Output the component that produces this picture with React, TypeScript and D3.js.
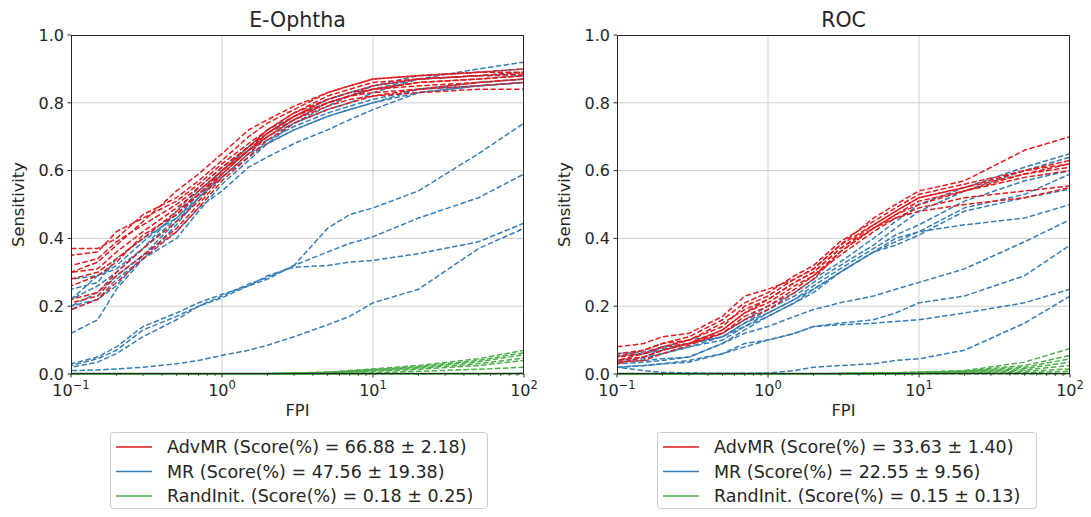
import React, { useRef, useEffect } from 'react';
import * as d3 from 'd3';

// shared FPI sample points for every curve
const fpi = [0.1, 0.15, 0.2, 0.3, 0.5, 0.7, 1, 1.5, 2, 3, 5, 7, 10, 20, 50, 100];

// E-Ophtha
const ophthaAdv = [
  [0.37, 0.37, 0.40, 0.47, 0.52, 0.57, 0.63, 0.70, 0.74, 0.78, 0.83, 0.85, 0.87, 0.88, 0.89, 0.90],
  [0.35, 0.36, 0.42, 0.46, 0.51, 0.56, 0.62, 0.68, 0.72, 0.77, 0.82, 0.84, 0.86, 0.87, 0.88, 0.89],
  [0.32, 0.34, 0.39, 0.44, 0.50, 0.55, 0.61, 0.67, 0.71, 0.76, 0.81, 0.83, 0.85, 0.87, 0.88, 0.885],
  [0.30, 0.31, 0.36, 0.42, 0.49, 0.54, 0.60, 0.67, 0.72, 0.77, 0.81, 0.83, 0.84, 0.85, 0.86, 0.87],
  [0.28, 0.30, 0.34, 0.40, 0.48, 0.53, 0.60, 0.66, 0.70, 0.75, 0.80, 0.82, 0.83, 0.84, 0.85, 0.86],
  [0.22, 0.24, 0.30, 0.37, 0.45, 0.51, 0.59, 0.66, 0.71, 0.76, 0.80, 0.82, 0.84, 0.86, 0.87, 0.88],
  [0.21, 0.23, 0.29, 0.35, 0.43, 0.50, 0.58, 0.65, 0.70, 0.75, 0.79, 0.81, 0.82, 0.83, 0.84, 0.84],
  [0.19, 0.22, 0.27, 0.34, 0.42, 0.49, 0.57, 0.64, 0.69, 0.74, 0.78, 0.80, 0.82, 0.84, 0.86, 0.87],
  [0.30, 0.33, 0.38, 0.45, 0.54, 0.59, 0.65, 0.72, 0.75, 0.79, 0.83, 0.85, 0.87, 0.88, 0.89, 0.89],
  [0.26, 0.29, 0.33, 0.41, 0.47, 0.53, 0.59, 0.66, 0.71, 0.76, 0.80, 0.82, 0.84, 0.86, 0.87, 0.88],
];
const ophthaMr = [
  [0.12, 0.16, 0.25, 0.34, 0.44, 0.52, 0.59, 0.66, 0.70, 0.74, 0.78, 0.80, 0.83, 0.87, 0.90, 0.92],
  [0.20, 0.22, 0.26, 0.35, 0.42, 0.49, 0.54, 0.61, 0.64, 0.68, 0.72, 0.75, 0.78, 0.83, 0.85, 0.86],
  [0.22, 0.26, 0.30, 0.37, 0.46, 0.53, 0.58, 0.65, 0.68, 0.72, 0.76, 0.78, 0.80, 0.84, 0.86, 0.87],
  [0.20, 0.24, 0.29, 0.35, 0.45, 0.52, 0.60, 0.66, 0.69, 0.73, 0.77, 0.79, 0.81, 0.84, 0.85, 0.86],
  [0.22, 0.29, 0.31, 0.37, 0.48, 0.55, 0.61, 0.67, 0.71, 0.75, 0.80, 0.82, 0.84, 0.87, 0.88, 0.88],
  [0.25, 0.27, 0.34, 0.40, 0.46, 0.52, 0.58, 0.64, 0.68, 0.74, 0.79, 0.82, 0.85, 0.88, 0.89, 0.90],
  [0.28, 0.29, 0.32, 0.39, 0.47, 0.54, 0.60, 0.67, 0.72, 0.76, 0.81, 0.83, 0.85, 0.87, 0.88, 0.89],
  [0.19, 0.22, 0.28, 0.34, 0.40, 0.48, 0.56, 0.63, 0.68, 0.72, 0.76, 0.78, 0.80, 0.83, 0.85, 0.86],
  [0.03, 0.05, 0.08, 0.14, 0.18, 0.21, 0.235, 0.26, 0.28, 0.32, 0.43, 0.47, 0.49, 0.54, 0.65, 0.74],
  [0.025, 0.045, 0.07, 0.13, 0.17, 0.20, 0.23, 0.265, 0.285, 0.32, 0.36, 0.385, 0.405, 0.46, 0.52, 0.59],
  [0.02, 0.035, 0.06, 0.11, 0.16, 0.20, 0.225, 0.26, 0.29, 0.315, 0.32, 0.33, 0.335, 0.355, 0.39, 0.445],
  [0.01, 0.012, 0.015, 0.02, 0.03, 0.04, 0.055, 0.07, 0.085, 0.11, 0.145, 0.17, 0.21, 0.25, 0.37, 0.43],
];
const ophthaRand = [
  [0, 0, 0, 0, 0, 0, 0, 0, 0.001, 0.003, 0.006, 0.010, 0.015, 0.025, 0.045, 0.070],
  [0, 0, 0, 0, 0, 0, 0, 0, 0.001, 0.002, 0.005, 0.009, 0.013, 0.022, 0.040, 0.063],
  [0, 0, 0, 0, 0, 0, 0, 0, 0.001, 0.002, 0.004, 0.008, 0.012, 0.020, 0.036, 0.057],
  [0, 0, 0, 0, 0, 0, 0, 0, 0, 0.001, 0.003, 0.006, 0.010, 0.017, 0.030, 0.047],
  [0, 0, 0, 0, 0, 0, 0, 0, 0, 0.001, 0.002, 0.005, 0.008, 0.014, 0.025, 0.040],
  [0, 0, 0, 0, 0, 0, 0, 0, 0, 0, 0.001, 0.002, 0.004, 0.008, 0.014, 0.020],
  [0, 0, 0, 0, 0, 0, 0, 0, 0, 0, 0, 0, 0, 0, 0, 0.002],
  [0, 0, 0, 0, 0, 0, 0, 0, 0, 0, 0, 0, 0, 0, 0, 0],
];

// ROC
const rocAdv = [
  [0.08, 0.09, 0.11, 0.12, 0.17, 0.23, 0.25, 0.28, 0.31, 0.38, 0.46, 0.50, 0.54, 0.57, 0.66, 0.70],
  [0.06, 0.07, 0.09, 0.10, 0.15, 0.19, 0.22, 0.27, 0.30, 0.37, 0.44, 0.48, 0.52, 0.55, 0.60, 0.62],
  [0.05, 0.06, 0.08, 0.09, 0.13, 0.18, 0.21, 0.26, 0.29, 0.36, 0.43, 0.47, 0.51, 0.54, 0.59, 0.62],
  [0.04, 0.05, 0.07, 0.09, 0.12, 0.17, 0.20, 0.25, 0.29, 0.35, 0.42, 0.46, 0.49, 0.52, 0.54, 0.555],
  [0.035, 0.04, 0.06, 0.085, 0.12, 0.16, 0.19, 0.24, 0.28, 0.36, 0.43, 0.46, 0.48, 0.50, 0.52, 0.55],
  [0.05, 0.07, 0.09, 0.11, 0.16, 0.21, 0.24, 0.29, 0.32, 0.39, 0.45, 0.49, 0.53, 0.56, 0.60, 0.63],
  [0.04, 0.06, 0.08, 0.10, 0.14, 0.20, 0.23, 0.28, 0.31, 0.38, 0.44, 0.48, 0.52, 0.55, 0.59, 0.61],
  [0.03, 0.05, 0.07, 0.09, 0.13, 0.18, 0.22, 0.27, 0.30, 0.37, 0.43, 0.47, 0.50, 0.54, 0.58, 0.60],
];
const rocMr = [
  [0.06, 0.065, 0.08, 0.10, 0.12, 0.16, 0.20, 0.24, 0.28, 0.33, 0.40, 0.45, 0.50, 0.55, 0.61, 0.65],
  [0.055, 0.06, 0.075, 0.09, 0.11, 0.15, 0.19, 0.23, 0.27, 0.32, 0.38, 0.43, 0.48, 0.54, 0.60, 0.64],
  [0.05, 0.06, 0.07, 0.09, 0.11, 0.15, 0.18, 0.22, 0.26, 0.31, 0.37, 0.41, 0.44, 0.51, 0.57, 0.60],
  [0.04, 0.05, 0.06, 0.08, 0.10, 0.14, 0.18, 0.22, 0.25, 0.30, 0.36, 0.39, 0.42, 0.49, 0.53, 0.59],
  [0.04, 0.045, 0.06, 0.08, 0.11, 0.14, 0.17, 0.21, 0.25, 0.30, 0.36, 0.38, 0.41, 0.48, 0.52, 0.545],
  [0.03, 0.035, 0.04, 0.05, 0.09, 0.13, 0.17, 0.21, 0.24, 0.30, 0.36, 0.40, 0.42, 0.44, 0.46, 0.50],
  [0.035, 0.04, 0.045, 0.05, 0.09, 0.12, 0.14, 0.17, 0.19, 0.21, 0.23, 0.25, 0.27, 0.31, 0.39, 0.455],
  [0.02, 0.025, 0.03, 0.04, 0.06, 0.09, 0.10, 0.12, 0.14, 0.15, 0.16, 0.18, 0.21, 0.23, 0.29, 0.38],
  [0.02, 0.025, 0.03, 0.035, 0.06, 0.08, 0.10, 0.12, 0.14, 0.145, 0.15, 0.155, 0.16, 0.18, 0.21, 0.25],
  [0.02, 0.01, 0.005, 0.003, 0.002, 0.002, 0.003, 0.01, 0.02, 0.025, 0.03, 0.04, 0.045, 0.07, 0.15, 0.23],
];
const rocRand = [
  [0, 0, 0, 0, 0, 0, 0, 0, 0, 0.002, 0.003, 0.004, 0.006, 0.010, 0.035, 0.075],
  [0, 0, 0, 0, 0, 0, 0, 0, 0, 0.001, 0.002, 0.003, 0.005, 0.009, 0.025, 0.055],
  [0, 0, 0, 0, 0, 0, 0, 0, 0, 0.001, 0.002, 0.003, 0.004, 0.008, 0.020, 0.045],
  [0, 0, 0, 0, 0, 0, 0, 0, 0, 0, 0.001, 0.002, 0.004, 0.007, 0.016, 0.035],
  [0, 0, 0, 0, 0, 0, 0, 0, 0, 0, 0.001, 0.002, 0.003, 0.006, 0.012, 0.025],
  [0, 0, 0, 0, 0, 0, 0, 0, 0, 0, 0.001, 0.001, 0.002, 0.004, 0.008, 0.015],
  [0, 0, 0, 0, 0, 0, 0, 0, 0, 0, 0, 0, 0.001, 0.002, 0.004, 0.008],
  [0, 0, 0, 0, 0, 0, 0, 0, 0, 0, 0, 0, 0, 0, 0, 0],
];

const yTicks = [0, 0.2, 0.4, 0.6, 0.8, 1.0];
const xTicks = [0.1, 1, 10, 100];
const xTickExp = ['\u22121', '0', '1', '2'];

const ophthaLegend = [
  'AdvMR (Score(%) = 66.88 \u00b1 2.18)',
  'MR (Score(%) = 47.56 \u00b1 19.38)',
  'RandInit. (Score(%) = 0.18 \u00b1 0.25)',
];
const rocLegend = [
  'AdvMR (Score(%) = 33.63 \u00b1 1.40)',
  'MR (Score(%) = 22.55 \u00b1 9.56)',
  'RandInit. (Score(%) = 0.15 \u00b1 0.13)',
];

const RED = '#e41a1c';
const BLUE = '#377eb8';
const GREEN = '#4daf4a';
const FONT = '"DejaVu Sans", sans-serif';
const INK = '#262626';

const panels = [
  { title: 'E-Ophtha', left: 71, adv: ophthaAdv, mr: ophthaMr, rand: ophthaRand, legend: ophthaLegend, legendX: 110, legendW: 377 },
  { title: 'ROC', left: 617, adv: rocAdv, mr: rocMr, rand: rocRand, legend: rocLegend, legendX: 657, legendW: 379 },
];

const App = () => {
  const ref = useRef<SVGSVGElement>(null);

  useEffect(() => {
    const svg = d3.select(ref.current);
    svg.selectAll('*').remove();

    const plotW = 453;
    const top = 35;
    const bottom = 374;

    panels.forEach(p => {
      const x = d3.scaleLog().domain([0.1, 100]).range([p.left, p.left + plotW]);
      const y = d3.scaleLinear().domain([0, 1]).range([bottom, top]);
      const g = svg.append('g');

      // grid
      g.selectAll('.gx').data(xTicks.slice(1, -1)).join('line')
        .attr('x1', d => x(d)).attr('x2', d => x(d))
        .attr('y1', top).attr('y2', bottom)
        .attr('stroke', '#cfcfcf').attr('stroke-width', 1);
      g.selectAll('.gy').data(yTicks.slice(1, -1)).join('line')
        .attr('x1', p.left).attr('x2', p.left + plotW)
        .attr('y1', d => y(d)).attr('y2', d => y(d))
        .attr('stroke', '#cfcfcf').attr('stroke-width', 1);

      // curves
      const line = d3.line<number>()
        .x((d, i) => x(fpi[i]))
        .y(d => y(d));

      const clip = `clip-${p.title}`;
      svg.append('clipPath').attr('id', clip).append('rect')
        .attr('x', p.left).attr('y', top - 2).attr('width', plotW).attr('height', bottom - top + 4);

      const curves = g.append('g').attr('clip-path', `url(#${clip})`);
      const drawSet = (set: number[][], color: string) => {
        set.forEach((s, i) => {
          curves.append('path')
            .attr('d', line(s))
            .attr('fill', 'none')
            .attr('stroke', color)
            .attr('stroke-width', 1.5)
            .attr('stroke-dasharray', '5.5,2.4')
            .attr('stroke-dashoffset', i * 2.1);
        });
      };
      drawSet(p.mr, BLUE);
      drawSet(p.adv, RED);
      drawSet(p.rand, GREEN);
      // overlapping zero lines look solid and darker
      curves.append('line')
        .attr('x1', p.left).attr('x2', x(100))
        .attr('y1', y(0) - 0.5).attr('y2', y(0) - 0.5)
        .attr('stroke', '#2f7d2c').attr('stroke-width', 1.5);

      // spines
      g.append('rect')
        .attr('x', p.left + 0.5).attr('y', top + 0.5)
        .attr('width', plotW - 1).attr('height', bottom - top - 1)
        .attr('fill', 'none').attr('stroke', INK).attr('stroke-width', 1);

      // y ticks
      g.selectAll('.yt').data(yTicks).join('line')
        .attr('x1', p.left - 3.5).attr('x2', p.left)
        .attr('y1', d => y(d)).attr('y2', d => y(d))
        .attr('stroke', INK);
      g.selectAll('.yl').data(yTicks).join('text')
        .attr('x', p.left - 7).attr('y', d => y(d))
        .attr('dy', '0.36em')
        .attr('text-anchor', 'end')
        .style('font-family', FONT).style('font-size', '16px').style('fill', INK)
        .text(d => d.toFixed(1));

      // x ticks, major + minor
      const minor: number[] = [];
      [0.1, 1, 10].forEach(dec => { for (let k = 2; k <= 9; k++) minor.push(dec * k); });
      g.selectAll('.xm').data(minor).join('line')
        .attr('x1', d => x(d)).attr('x2', d => x(d))
        .attr('y1', bottom).attr('y2', bottom + 2)
        .attr('stroke', INK).attr('stroke-width', 0.7);
      g.selectAll('.xt').data(xTicks).join('line')
        .attr('x1', d => x(d)).attr('x2', d => x(d))
        .attr('y1', bottom).attr('y2', bottom + 3.5)
        .attr('stroke', INK);
      xTicks.forEach((t, i) => {
        const txt = g.append('text')
          .attr('x', x(t)).attr('y', bottom + 22)
          .attr('text-anchor', 'middle')
          .style('font-family', FONT).style('font-size', '16px').style('fill', INK);
        txt.append('tspan').text('10');
        txt.append('tspan').attr('dy', -7).style('font-size', '11.5px').text(xTickExp[i]);
      });

      // titles and axis labels
      g.append('text')
        .attr('x', p.left + plotW / 2).attr('y', 27)
        .attr('text-anchor', 'middle')
        .style('font-family', FONT).style('font-size', '20.5px').style('fill', INK)
        .text(p.title);
      g.append('text')
        .attr('x', p.left + plotW / 2).attr('y', 416)
        .attr('text-anchor', 'middle')
        .style('font-family', FONT).style('font-size', '16.3px').style('fill', INK)
        .text('FPI');
      g.append('text')
        .attr('transform', `translate(${p.left - 47}, ${(top + bottom) / 2}) rotate(-90)`)
        .attr('text-anchor', 'middle')
        .style('font-family', FONT).style('font-size', '16.3px').style('fill', INK)
        .text('Sensitivity');

      // legend
      const lg = g.append('g').attr('transform', `translate(${p.legendX}, 432)`);
      lg.append('rect')
        .attr('x', 0.5).attr('y', 0.5).attr('width', p.legendW).attr('height', 76)
        .attr('rx', 3).attr('fill', 'white').attr('stroke', '#cccccc');
      const colors = [RED, BLUE, GREEN];
      p.legend.forEach((label, i) => {
        const cy = 15 + i * 24.5;
        lg.append('line')
          .attr('x1', 6).attr('x2', 42).attr('y1', cy).attr('y2', cy)
          .attr('stroke', colors[i]).attr('stroke-width', 1.5);
        lg.append('text')
          .attr('x', 57).attr('y', cy).attr('dy', '0.36em')
          .style('font-family', FONT).style('font-size', '17.5px').style('fill', INK)
          .text(label);
      });
    });
  }, []);

  return <svg ref={ref} width={1091} height={517} style={{ position: 'absolute', left: 0, top: 0 }} />;
};

export default App;
